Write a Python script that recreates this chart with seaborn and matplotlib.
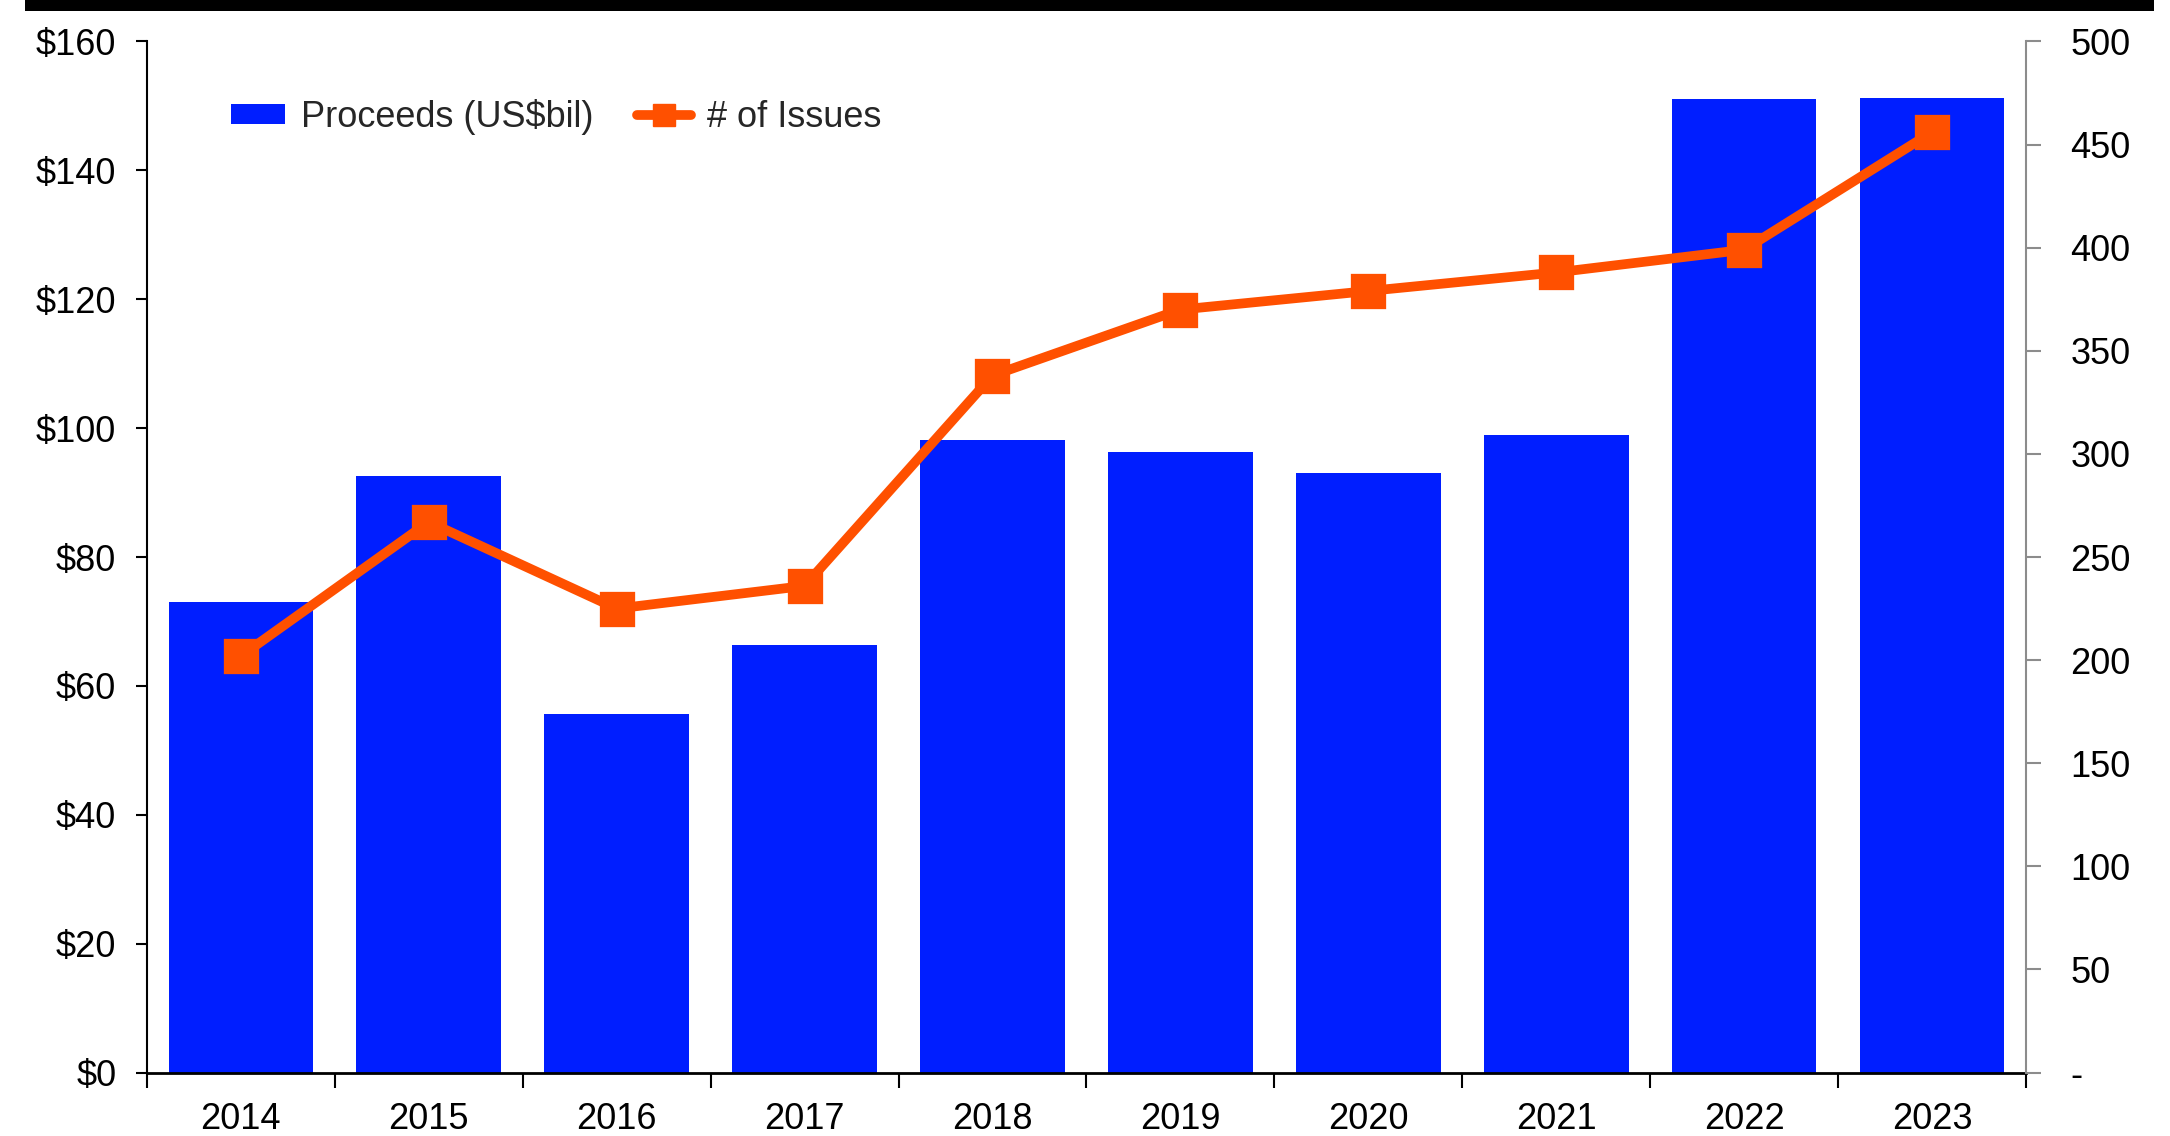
import matplotlib
matplotlib.use("Agg")
import matplotlib.pyplot as plt
from matplotlib.patches import Patch, Rectangle
from matplotlib.lines import Line2D
from matplotlib.ticker import FixedLocator
import seaborn as sns
import pandas as pd
import numpy as np

years = ["2014", "2015", "2016", "2017", "2018", "2019", "2020", "2021", "2022", "2023"]
proceeds = [73.0, 92.6, 55.6, 66.3, 98.2, 96.3, 93.1, 99.0, 151.0, 151.2]
issues = [202, 267, 225, 236, 338, 370, 379, 388, 399, 456]
left_ticks = [0, 20, 40, 60, 80, 100, 120, 140, 160]
left_labels = ["$0", "$20", "$40", "$60", "$80", "$100", "$120", "$140", "$160"]
right_ticks = [0, 50, 100, 150, 200, 250, 300, 350, 400, 450, 500]
right_labels = ["-", "50", "100", "150", "200", "250", "300", "350", "400", "450", "500"]

BLUE = "#001EFF"
ORANGE = "#FF5000"

sns.set_theme(style="white")
plt.rcParams["font.family"] = ["Liberation Sans", "DejaVu Sans"]

df = pd.DataFrame({"year": years, "proceeds": proceeds, "issues": issues})

fig = plt.figure(figsize=(21.7, 11.36), dpi=100)
ax = fig.add_axes([0.0677, 0.0558, 0.8659, 0.9077])

sns.barplot(data=df, x="year", y="proceeds", color=BLUE, saturation=1,
            width=0.77, linewidth=0, ax=ax)
ax.set_xlim(-0.5, 9.5)
ax.set_ylim(0, 160)
ax.set_xlabel("")
ax.set_ylabel("")
ax.set_yticks(left_ticks)
ax.set_yticklabels(left_labels)

ax2 = ax.twinx()
sns.pointplot(data=df, x="year", y="issues", color=ORANGE, markers="s",
              markersize=20, linewidth=7, ax=ax2, errorbar=None)
ax2.set_xlim(-0.5, 9.5)
ax2.set_ylim(0, 500)
ax2.set_ylabel("")
ax2.set_yticks(right_ticks)
ax2.set_yticklabels(right_labels)

fs = 26
for s in ["top", "right"]:
    ax.spines[s].set_visible(False)
ax.spines["left"].set_color("black")
ax.spines["bottom"].set_color("black")
ax.spines["left"].set_linewidth(1.5)
ax.spines["bottom"].set_linewidth(2.0)
for s in ["top", "left", "bottom"]:
    ax2.spines[s].set_visible(False)
ax2.spines["right"].set_color("#8c8c8c")
ax2.spines["right"].set_linewidth(1.5)

ax.tick_params(axis="y", which="major", left=True, length=8, width=1.5,
               color="black", labelsize=fs, pad=14, labelcolor="black")
ax.xaxis.set_minor_locator(FixedLocator(np.arange(-0.5, 10, 1)))
ax.tick_params(axis="x", which="major", bottom=False, labelsize=fs, pad=15, labelcolor="black")
ax.tick_params(axis="x", which="minor", bottom=True, length=11, width=1.5, color="black")
ax2.tick_params(axis="y", which="major", right=True, length=11, width=1.5,
                color="#8c8c8c", labelsize=fs, pad=21, labelcolor="black")
ax2.grid(False)
ax.grid(False)

handles = [Patch(facecolor=BLUE, edgecolor="none"),
           Line2D([0], [0], color=ORANGE, lw=7, marker="s", markersize=16)]
ax.legend(handles, ["Proceeds (US$bil)", "# of Issues"], ncol=2, frameon=False,
          loc="center left", bbox_to_anchor=(0.035, 0.927), fontsize=fs,
          handlelength=1.5, handleheight=0.5, handletextpad=0.45,
          columnspacing=1.2, borderpad=0)

fig.add_artist(Rectangle((0.0115, 0.990), 0.981, 0.012, transform=fig.transFigure,
                         facecolor="black", edgecolor="none"))

fig.savefig("out.png", dpi=100, facecolor="white")
